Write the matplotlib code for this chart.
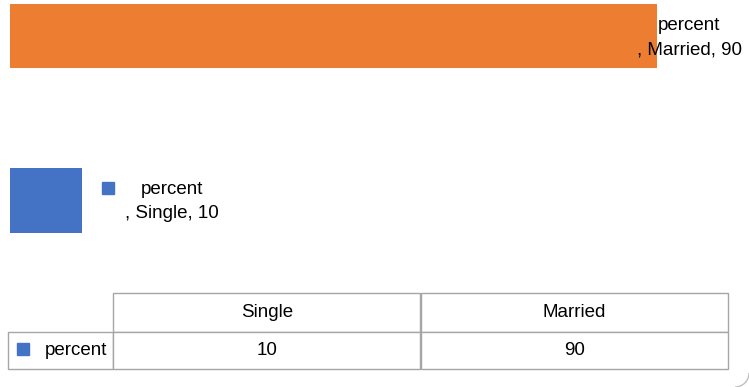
import matplotlib
matplotlib.use("Agg")
import matplotlib.pyplot as plt
from matplotlib.transforms import offset_copy
from matplotlib.patches import Arc

plt.rcParams['font.family'] = ['Liberation Sans', 'DejaVu Sans']

# ---- data ----
categories = ["Single", "Married"]
values = [10, 90]
series_name = "percent"
bar_colors = ["#4472C4", "#ED7D31"]

W, H = 749, 387
fig = plt.figure(figsize=(W / 100, H / 100), dpi=100)

# ---- bar axes ----
ax = fig.add_axes([10 / W, (H - 285) / H, 719 / W, 285 / H])
ypos = list(range(len(categories)))
ax.barh(ypos, values, height=0.396, color=bar_colors)
ax.set_xlim(0, 100)
ax.set_ylim(-0.518, 1.2195)
ax.axis("off")

FS = 13.5
# label offsets (points) from bar end, per category
label_dx = [90 * 0.72, 32 * 0.72]
label_dy = [-1.2, -1.2]
for i, (cat, v) in enumerate(zip(categories, values)):
    ax.annotate(f"{series_name}\n, {cat}, {v}", xy=(v, ypos[i]),
                xytext=(label_dx[i], label_dy[i]), textcoords="offset points",
                ha="center", va="center", fontsize=FS, linespacing=1.55,
                color="#000000")

# legend key in the Single label
tr = offset_copy(ax.transData, fig=fig, x=26 * 0.72, y=12.5 * 0.72, units="points")
ax.plot([values[0]], [ypos[0]], marker="s", markersize=8.6, color=bar_colors[0],
        linestyle="none", transform=tr, clip_on=False)

# ---- data table ----
tax = fig.add_axes([8 / W, (H - 369) / H, 720 / W, 76 / H])
tax.set_xlim(0, 1)
tax.set_ylim(0, 1)
tax.axis("off")
lw_frac = 105 / 720
cw_frac = (1 - lw_frac) / len(categories)
tbl = tax.table(cellText=[[str(v) for v in values]], rowLabels=[series_name],
                colLabels=categories, cellLoc="center", rowLoc="right",
                colWidths=[cw_frac] * len(categories),
                bbox=[lw_frac, 0, 1 - lw_frac, 1])
tbl._autoColumns = []
tbl.auto_set_font_size(False)
tbl.set_fontsize(FS)
for (r, c), cell in tbl.get_celld().items():
    cell.set_edgecolor("#A6A6A6")
    cell.set_linewidth(1.0)
    cell.set_height((39 if r == 0 else 37) / 76)
    if c == -1:
        cell.set_width(lw_frac)
        cell.PAD = 0.06
tax.plot([15 / 720], [20 / 76], marker="s", markersize=8.6, color=bar_colors[0],
         linestyle="none", transform=tax.transAxes, clip_on=False)

# rounded corner of chart border (bottom-right)
fig.add_artist(Arc((735 / W, 14 / H), 28 / W, 28 / H, theta1=-90, theta2=0,
                   transform=fig.transFigure, color="#BFBFBF", lw=1))

fig.savefig("out.png", dpi=100)
